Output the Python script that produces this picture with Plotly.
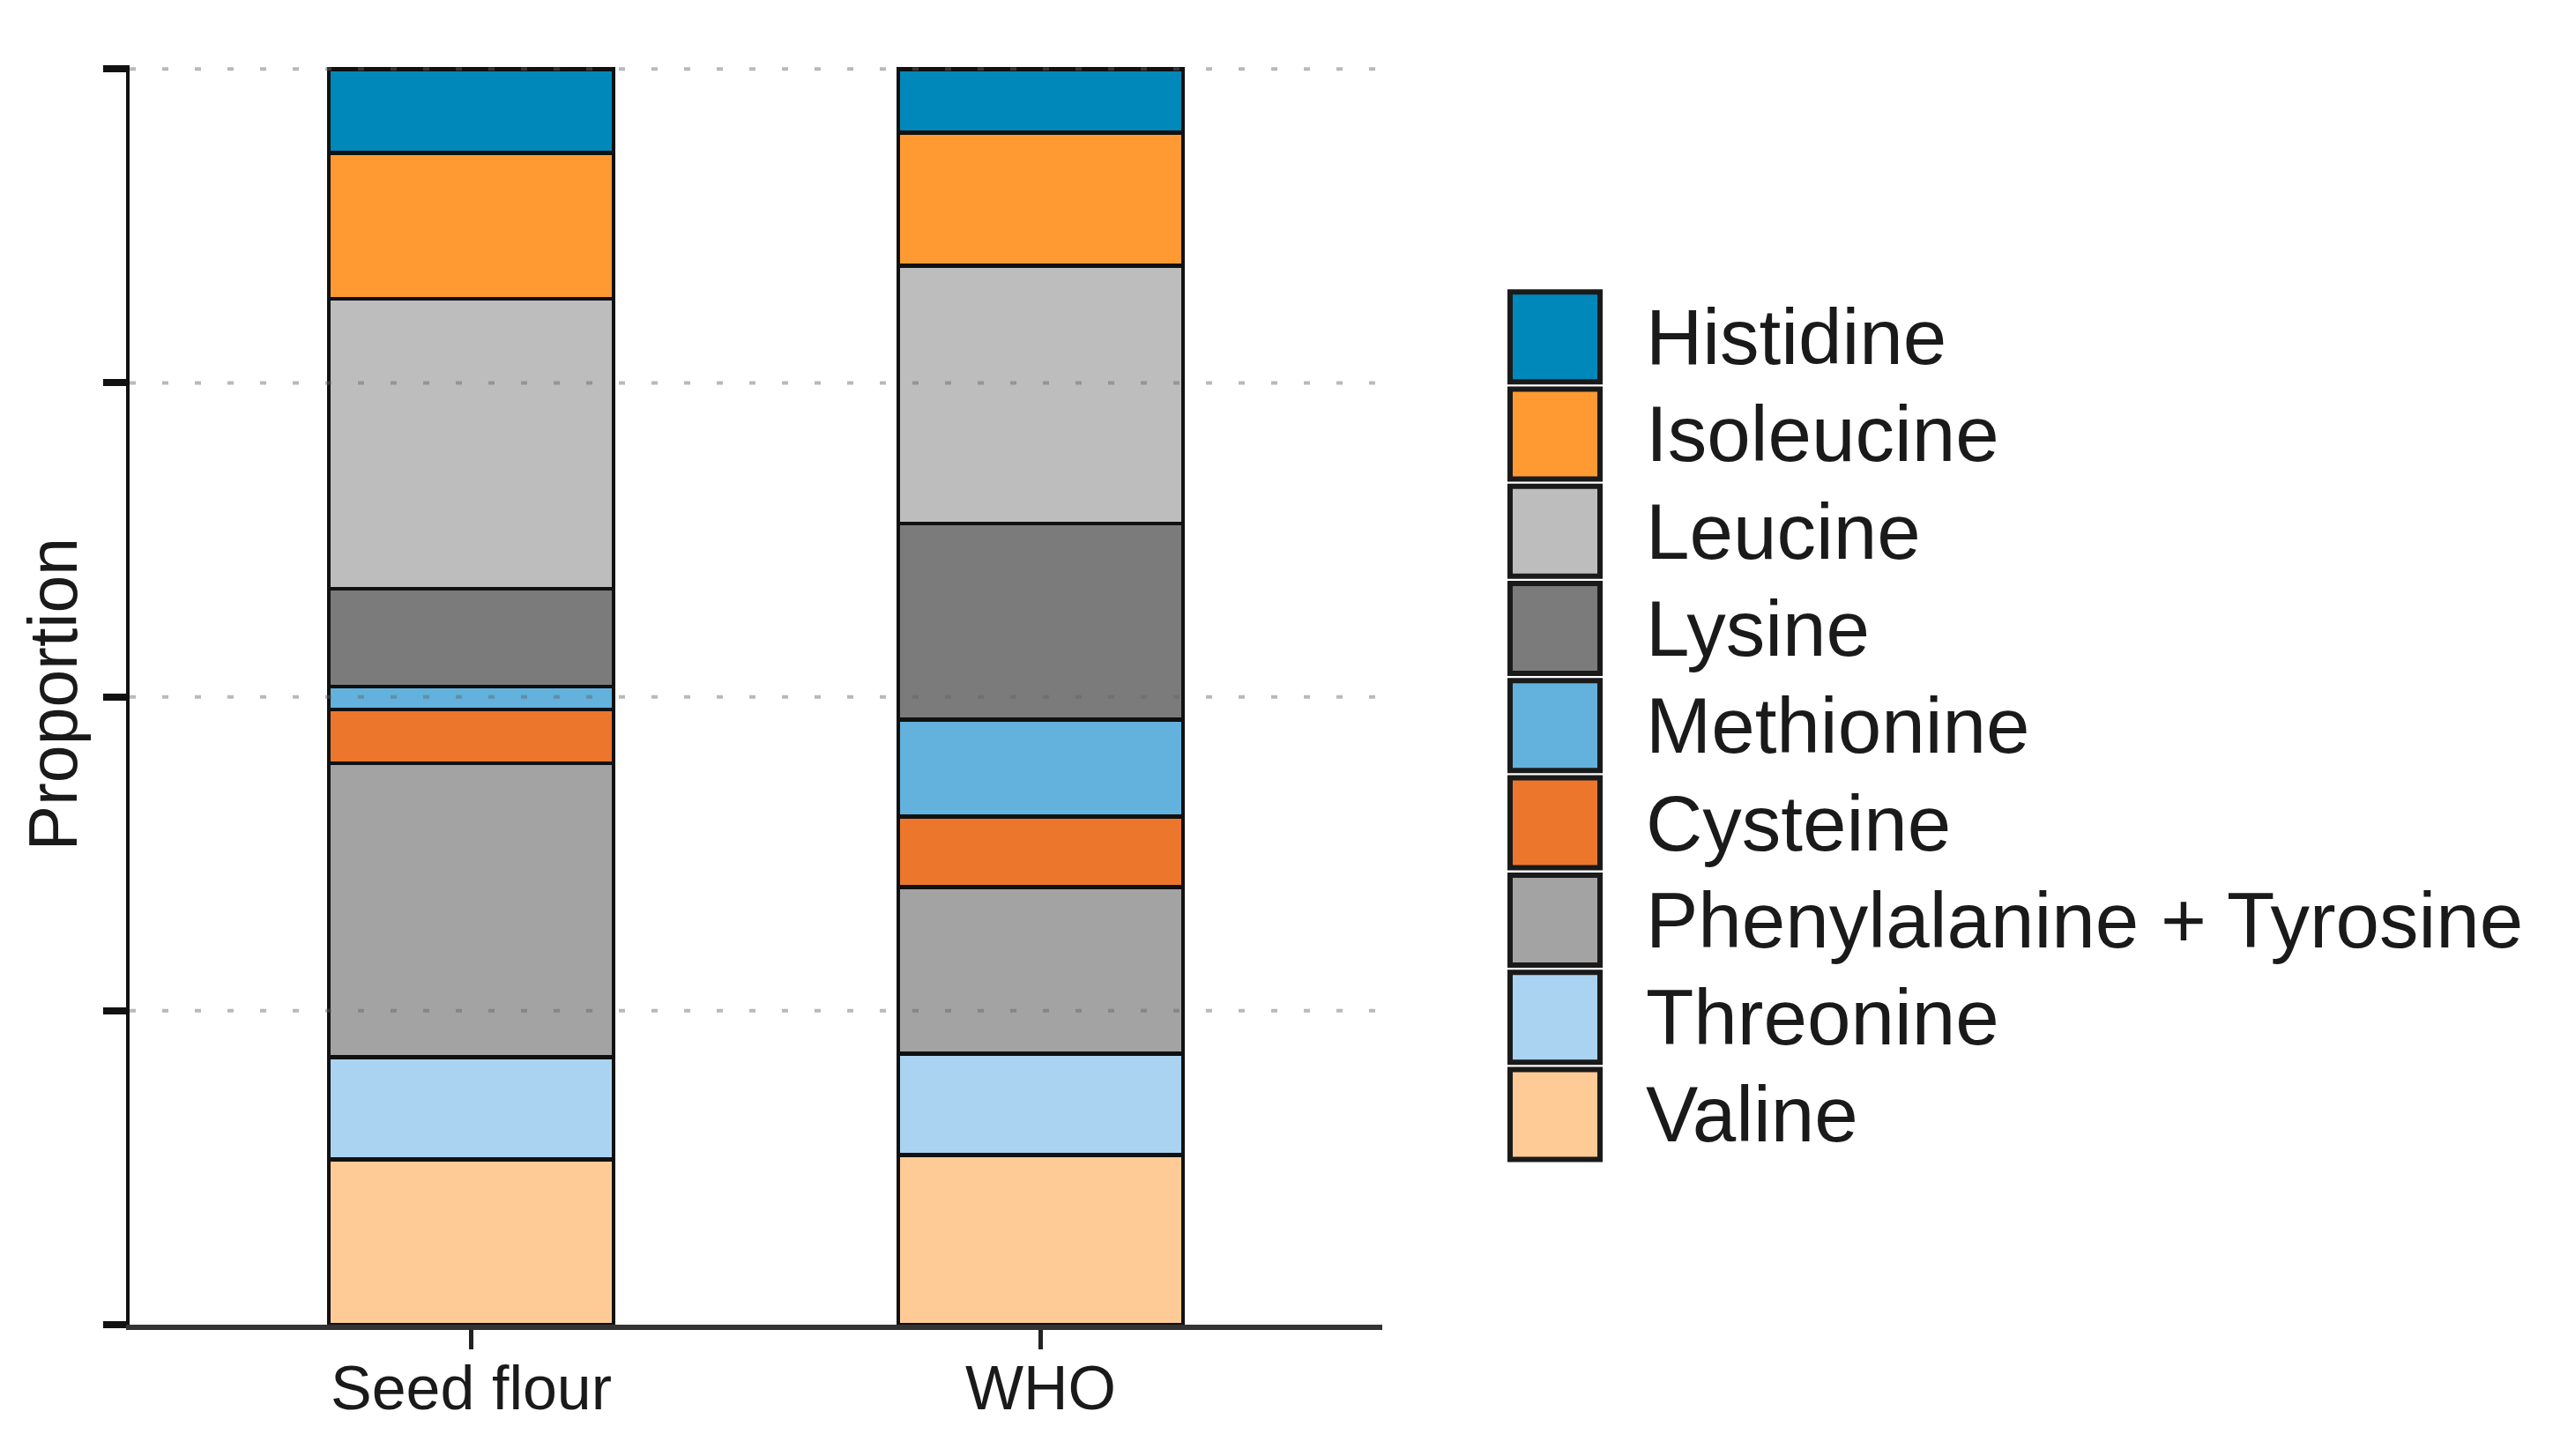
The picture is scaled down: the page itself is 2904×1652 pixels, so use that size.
import plotly.graph_objects as go

# ---- data ----
categories = ["Seed flour", "WHO"]
amino_acids = ["Histidine", "Isoleucine", "Leucine", "Lysine", "Methionine",
               "Cysteine", "Phenylalanine + Tyrosine", "Threonine", "Valine"]
seed_flour = [0.067, 0.116, 0.231, 0.078, 0.018, 0.043, 0.234, 0.0815, 0.1315]
who = [0.0505, 0.106, 0.2055, 0.156, 0.0774, 0.056, 0.1325, 0.081, 0.135]
colors = ["#0088BB", "#FF9A33", "#BDBDBD", "#7B7B7B", "#62B2DD",
          "#EC762C", "#A3A3A3", "#A9D3F1", "#FECA95"]
y_tickvals = [0, 0.25, 0.5, 0.75, 1.0]
grid_vals = [0.25, 0.5, 0.75, 1.0]

W, H = 2904, 1652
YMAX = 1.003
L, R, B = 139, 1560, 1495
T = B - (B - 70) * YMAX  # so that 1.0 lands at y=70


def px_x(p):
    return (p - L) / (R - L)


def px_y(p):
    return (B - p) / (B - T)


fig = go.Figure()
# stack bottom-up: reverse legend order
for i in reversed(range(len(amino_acids))):
    fig.add_trace(go.Bar(
        x=categories,
        y=[seed_flour[i], who[i]],
        name=amino_acids[i],
        marker=dict(color=colors[i], line=dict(color="#111111", width=4.5)),
        showlegend=False,
    ))

shapes = []
for g in grid_vals:
    shapes.append(dict(type="line", xref="paper", yref="y", x0=0, x1=1, y0=g, y1=g,
                       line=dict(color="rgba(100,100,100,0.45)", width=4, dash="7px,30px"),
                       layer="above"))

annotations = []
row_pitch = 110.3
for i, name in enumerate(amino_acids):
    top = 323 + i * row_pitch
    shapes.append(dict(type="rect", xref="paper", yref="paper",
                       x0=px_x(1705), x1=px_x(1807), y0=px_y(top), y1=px_y(top + 102),
                       fillcolor=colors[i], line=dict(color="#1a1a1a", width=6)))
    annotations.append(dict(xref="paper", yref="paper", x=px_x(1857), y=px_y(top + 51),
                            xanchor="left", yanchor="middle", text=name, showarrow=False,
                            font=dict(size=89, color="#1a1a1a")))

annotations.append(dict(xref="paper", yref="paper", x=px_x(52), y=px_y(780),
                        xanchor="center", yanchor="middle", text="Proportion",
                        textangle=-90, showarrow=False,
                        font=dict(size=77, color="#1a1a1a")))

fig.update_layout(
    width=W, height=H,
    margin=dict(l=L, r=W - R, t=T, b=H - B, pad=0),
    barmode="stack", bargap=0.5,
    plot_bgcolor="white", paper_bgcolor="white",
    font=dict(family="Liberation Sans, Arial, sans-serif", color="#1a1a1a"),
    shapes=shapes, annotations=annotations,
    showlegend=False,
)
fig.update_xaxes(type="category", range=[-0.6, 1.6], showgrid=False,
                 showline=True, linecolor="#333333", linewidth=6,
                 ticks="outside", ticklen=22, tickwidth=5, tickcolor="#222222",
                 ticklabelstandoff=-16,
                 tickfont=dict(size=70, color="#1a1a1a"), zeroline=False)
fig.update_yaxes(range=[0, YMAX], showgrid=False, zeroline=False,
                 showline=True, linecolor="#111111", linewidth=4,
                 ticks="outside", ticklen=26, tickwidth=8, tickcolor="#111111",
                 tickvals=y_tickvals, showticklabels=False)

fig.write_html("out.html")
